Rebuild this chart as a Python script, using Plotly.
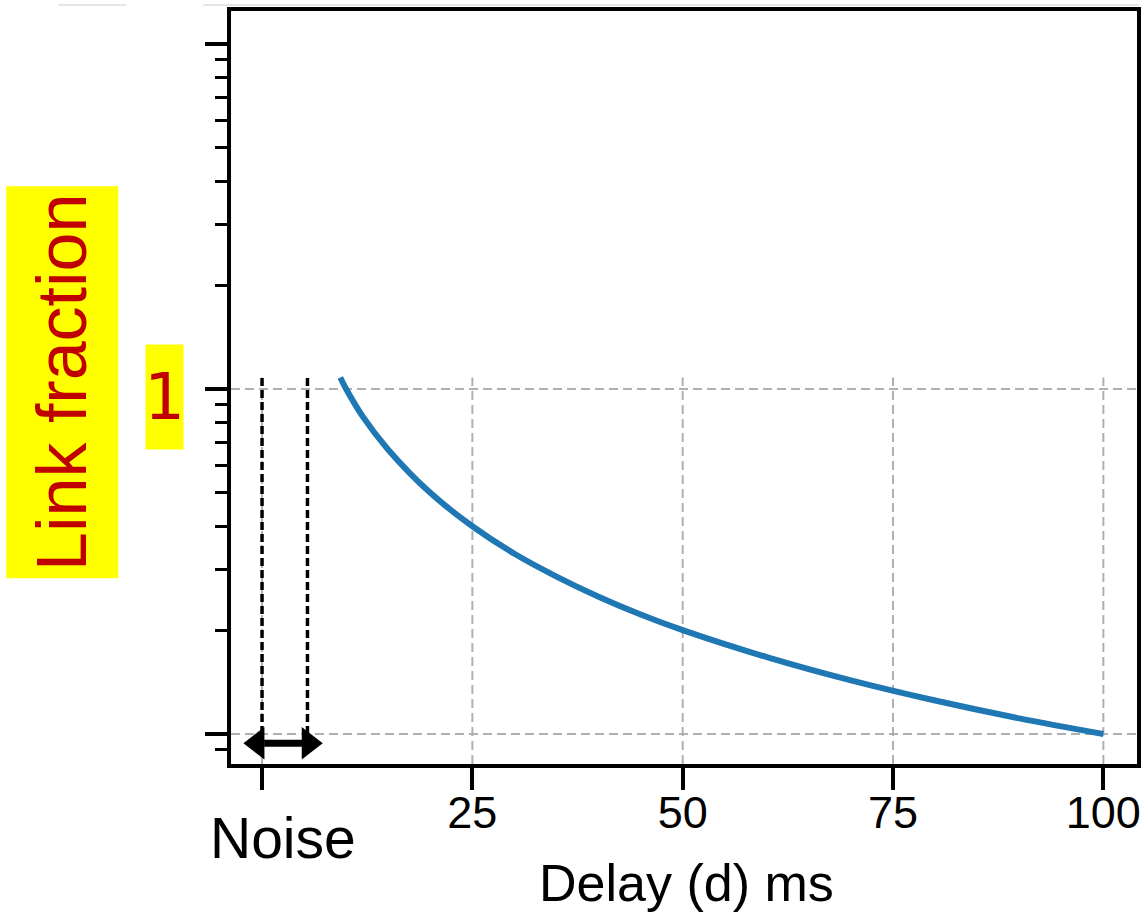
import math
import plotly.graph_objects as go

# ---- data ----
delay_ms = [9.3, 10, 12, 15, 20, 25, 30, 35, 40, 45, 50, 60, 70, 80, 90, 100]
link_fraction = [1.08, 1.0, 0.83, 0.667, 0.5, 0.4, 0.333, 0.286, 0.25, 0.222,
                 0.2, 0.167, 0.143, 0.125, 0.111, 0.1]
x_ticks = [0, 25, 50, 75, 100]
x_tick_labels = ["", "25", "50", "75", "100"]
grid_levels = [0.1, 1]
noise_bounds = [0, 5.4]
noise_top = 1.08
noise_bottom = 0.1
arrow_y = 0.094
arrow_x = [-0.55, 5.55]

x_range = [-3.69, 104.0]
y_range = [-1.087, 1.0957]          # log10 range
y_bottom = 10 ** y_range[0]

PLOT_L, PLOT_R, PLOT_T, PLOT_B = 231, 1141, 11, 764

fig = go.Figure()

grid_style = dict(color="#b0b0b0", width=2, dash="9px,5px")

# horizontal grid lines
for g in grid_levels:
    fig.add_trace(go.Scatter(x=x_range, y=[g, g], mode="lines", line=grid_style,
                             hoverinfo="skip", showlegend=False))
# vertical grid lines (only lower region visible)
for xt in x_ticks:
    fig.add_trace(go.Scatter(x=[xt, xt], y=[y_bottom, noise_top], mode="lines",
                             line=grid_style, hoverinfo="skip", showlegend=False))

# noise bounds
for nb in noise_bounds:
    fig.add_trace(go.Scatter(x=[nb, nb], y=[noise_bottom, noise_top], mode="lines",
                             line=dict(color="black", width=3.5, dash="8px,4px"),
                             hoverinfo="skip", showlegend=False))

# double arrow
fig.add_trace(go.Scatter(x=[arrow_x[0] + 0.8, arrow_x[1] - 0.8], y=[arrow_y, arrow_y],
                         mode="lines", line=dict(color="black", width=7),
                         hoverinfo="skip", showlegend=False))
fig.add_trace(go.Scatter(x=arrow_x, y=[arrow_y, arrow_y], mode="markers",
                         marker=dict(symbol=["triangle-left", "triangle-right"], size=28,
                                     color="black"),
                         hoverinfo="skip", showlegend=False))

# main curve
fig.add_trace(go.Scatter(x=delay_ms, y=link_fraction, mode="lines",
                         line=dict(color="#1f77b4", width=6, shape="spline"),
                         showlegend=False))

fig.update_layout(
    width=1145, height=914,
    margin=dict(l=PLOT_L, r=1145 - PLOT_R, t=PLOT_T, b=914 - PLOT_B),
    paper_bgcolor="white", plot_bgcolor="white",
    font=dict(family="Liberation Sans, Arial, sans-serif", color="black"),
    xaxis=dict(
        range=x_range, tickmode="array", tickvals=x_ticks, ticktext=x_tick_labels,
        showgrid=False, zeroline=False,
        showline=True, linecolor="black", linewidth=4, mirror=True,
        ticks="outside", ticklen=22, tickwidth=4, tickcolor="black",
        tickfont=dict(family="Liberation Sans", size=45),
        ticklabelstandoff=-16,
    ),
    yaxis=dict(
        type="log", range=y_range, dtick=1, tick0=0,
        showticklabels=False, showgrid=False, zeroline=False,
        showline=True, linecolor="black", linewidth=4, mirror=True,
        ticks="outside", ticklen=22, tickwidth=4, tickcolor="black",
        minor=dict(ticks="outside", ticklen=12, tickwidth=3, tickcolor="black",
                   dtick="D1", showgrid=False),
    ),
)

# paper-coordinate helpers (pixel -> paper fraction)
def px_x(p):
    return (p - PLOT_L) / float(PLOT_R - PLOT_L)

def px_y(p):
    return (PLOT_B - p) / float(PLOT_B - PLOT_T)

fig.add_annotation(xref="paper", yref="paper", x=px_x(689), y=px_y(883),
                   text="Delay (d) ms", showarrow=False,
                   font=dict(family="Liberation Sans", size=52, color="black"),
                   xanchor="center", yanchor="middle")
fig.add_annotation(xref="paper", yref="paper", x=px_x(61.5), y=px_y(382.5),
                   text="Link fraction", textangle=-90, showarrow=False,
                   width=385, height=105,
                   font=dict(family="Liberation Sans", size=70, color="#c00000"),
                   bgcolor="#ffff00", borderpad=3, xanchor="center", yanchor="middle")
fig.add_annotation(xref="paper", yref="paper", x=px_x(164.5), y=px_y(397),
                   text="1", showarrow=False, width=37, height=104,
                   font=dict(family="DejaVu Sans", size=64, color="#c00000"),
                   bgcolor="#ffff00", borderpad=0, xanchor="center", yanchor="middle")
fig.add_annotation(xref="paper", yref="paper", x=px_x(283), y=px_y(838),
                   text="Noise", showarrow=False,
                   font=dict(family="Liberation Sans", size=57, color="black"),
                   xanchor="center", yanchor="middle")

# faint lines at the very top (from the original crop)
for x0, x1 in [(58, 126), (203, 1143)]:
    fig.add_shape(type="line", xref="paper", yref="paper",
                  x0=px_x(x0), x1=px_x(x1), y0=px_y(5), y1=px_y(5),
                  line=dict(color="#cccccc", width=1))

fig.write_html("out.html", config={"displayModeBar": False},
               post_script="document.body.style.margin='0';")
